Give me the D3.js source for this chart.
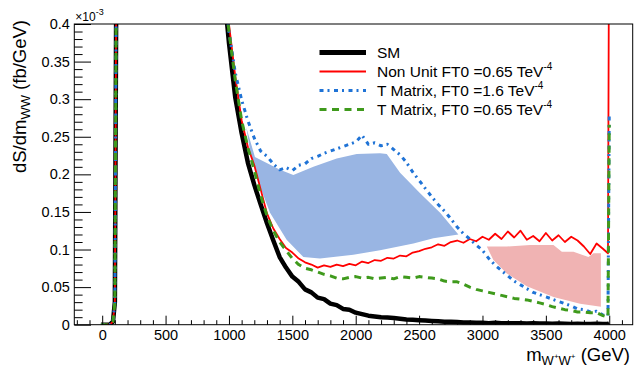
<!DOCTYPE html>
<html>
<head>
<meta charset="utf-8">
<script src="https://cdn.jsdelivr.net/npm/d3@7"></script>
<style>
  body { margin: 0; background: #fff; }
  svg { display: block; font-family: "Liberation Sans", Arial, Helvetica, sans-serif; }
</style>
</head>
<body>
<div id="chart"></div>
<script>
// m_WW bin positions (GeV) shared by all four curves
const massGeV = [-10, 60, 85, 100, 115, 900, 975,
  1000, 1050, 1100, 1150, 1200, 1250, 1300, 1350, 1400, 1450,
  1500, 1550, 1600, 1650, 1700, 1750, 1800, 1850, 1900, 1950,
  2000, 2050, 2100, 2150, 2200, 2250, 2300, 2350, 2400, 2450,
  2500, 2550, 2600, 2650, 2700, 2750, 2800, 2850, 2900, 2950,
  3000, 3050, 3100, 3150, 3200, 3250, 3300, 3350, 3400, 3450,
  3500, 3550, 3600, 3650, 3700, 3750, 3800, 3850, 3900, 3950,
  3990, 4000];

// dS/dm values in units of 1e-3 fb/GeV
const smValues = [0, 0, 0.004, 0.03, 0.6, 0.6, 0.42,
  0.375, 0.302, 0.255, 0.215, 0.186, 0.160, 0.135, 0.112, 0.090, 0.076,
  0.064, 0.057, 0.047, 0.043, 0.036, 0.034, 0.028, 0.026, 0.021, 0.020,
  0.016, 0.014, 0.012, 0.011, 0.010, 0.0095, 0.009, 0.008, 0.007, 0.0065,
  0.006, 0.0055, 0.005, 0.0045, 0.004, 0.004, 0.0035, 0.003, 0.003, 0.0025,
  0.0025, 0.002, 0.0025, 0.002, 0.002, 0.0018, 0.002, 0.0015, 0.0018, 0.0015,
  0.0015, 0.0012, 0.0015, 0.0012, 0.001, 0.0012, 0.001, 0.001, 0.0012, 0.001,
  0.001, 0.002];

const nonUnitValues = [0, 0, 0.004, 0.03, 0.6, 0.6, 0.45,
  0.40, 0.33, 0.272, 0.236, 0.212, 0.180, 0.148, 0.128, 0.114, 0.102,
  0.096, 0.088, 0.083, 0.080, 0.076, 0.079, 0.077, 0.080, 0.078, 0.081,
  0.079, 0.084, 0.082, 0.086, 0.085, 0.089, 0.088, 0.092, 0.091, 0.096,
  0.098, 0.101, 0.103, 0.107, 0.105, 0.110, 0.112, 0.109, 0.114, 0.111,
  0.117, 0.113, 0.121, 0.114, 0.124, 0.116, 0.125, 0.113, 0.118, 0.111,
  0.122, 0.112, 0.119, 0.110, 0.117, 0.112, 0.104, 0.094, 0.108, 0.101,
  0.095, 0.6];

const tMatrix16Values = [0, 0, 0.004, 0.03, 0.6, 0.6, 0.43,
  0.39, 0.335, 0.299, 0.271, 0.248, 0.231, 0.224, 0.214, 0.206, 0.209,
  0.205, 0.212, 0.214, 0.221, 0.224, 0.228, 0.231, 0.234, 0.237, 0.240,
  0.243, 0.252, 0.240, 0.242, 0.238, 0.240, 0.233, 0.226, 0.216, 0.203,
  0.192, 0.181, 0.170, 0.160, 0.151, 0.141, 0.130, 0.121, 0.114, 0.106,
  0.099, 0.088, 0.079, 0.072, 0.065, 0.058, 0.053, 0.048, 0.043, 0.040,
  0.037, 0.034, 0.031, 0.028, 0.025, 0.021, 0.020, 0.017, 0.018, 0.013,
  0.012, 0.282];

const tMatrix065Values = [0, 0, 0.004, 0.03, 0.6, 0.6, 0.43,
  0.39, 0.325, 0.272, 0.235, 0.205, 0.172, 0.145, 0.125, 0.110, 0.099,
  0.088, 0.080, 0.075, 0.073, 0.070, 0.067, 0.065, 0.062, 0.061, 0.063,
  0.064, 0.062, 0.063, 0.061, 0.062, 0.063, 0.061, 0.064, 0.063, 0.062,
  0.064, 0.063, 0.062, 0.061, 0.058, 0.057, 0.057, 0.054, 0.050, 0.047,
  0.045, 0.043, 0.041, 0.039, 0.037, 0.035, 0.034, 0.033, 0.031, 0.029,
  0.027, 0.024, 0.022, 0.020, 0.019, 0.017, 0.017, 0.016, 0.016, 0.012,
  0.010, 0.266];

// shaded regions (polygon outlines in data units)
const blueBandMass  = [1136, 1205, 1403, 1508, 1666, 1850, 2008, 2192, 2245, 2350, 2508, 2666, 2810,
                       2613, 2455, 2192, 1981, 1718, 1587, 1455, 1324, 1245, 1166];
const blueBandValue = [0.263, 0.223, 0.206, 0.199, 0.210, 0.221, 0.227, 0.228, 0.227, 0.202, 0.175, 0.149, 0.120,
                       0.115, 0.108, 0.099, 0.093, 0.088, 0.090, 0.113, 0.149, 0.184, 0.232];
const pinkBandMass  = [3034, 3192, 3376, 3560, 3626, 3718, 3836, 3875, 3934, 3934, 3770, 3560, 3350, 3192, 3086];
const pinkBandValue = [0.104, 0.104, 0.106, 0.106, 0.097, 0.097, 0.090, 0.095, 0.095, 0.024, 0.028, 0.037, 0.051, 0.068, 0.086];

const legendLabels = ["SM", "Non Unit FT0 =0.65 TeV", "T Matrix, FT0 =1.6 TeV", "T Matrix, FT0 =0.65 TeV"];

const xMajorTicks = [0, 500, 1000, 1500, 2000, 2500, 3000, 3500, 4000];
const yMajorTicks = [0, 0.05, 0.1, 0.15, 0.2, 0.25, 0.3, 0.35, 0.4];

const width = 635, height = 367;
const frame = {left: 74.3, right: 632.7, top: 24, bottom: 324.7};

const svg = d3.select("#chart").append("svg")
    .attr("width", width)
    .attr("height", height);

const x = d3.scaleLinear().domain([-220, 4185]).range([frame.left, frame.right]);
const y = d3.scaleLinear().domain([0, 0.4]).range([frame.bottom, frame.top]);

svg.append("clipPath").attr("id", "plot-clip")
  .append("rect")
    .attr("x", frame.left).attr("y", frame.top)
    .attr("width", frame.right - frame.left)
    .attr("height", frame.bottom - frame.top);

const plot = svg.append("g").attr("clip-path", "url(#plot-clip)");

// shaded bands
const polygon = (ms, vs) => ms.map((m, i) => [x(m), y(vs[i])]);
plot.append("path")
    .attr("d", d3.line()(polygon(blueBandMass, blueBandValue)) + "Z")
    .attr("fill", "#99b5e3");
plot.append("path")
    .attr("d", d3.line()(polygon(pinkBandMass, pinkBandValue)) + "Z")
    .attr("fill", "#f0b3b3");

const series = [
  {values: smValues, color: "#000000", width: 4.5, dash: null},
  {values: nonUnitValues, color: "#ff0000", width: 1.8, dash: null},
  {values: tMatrix16Values, color: "#1f73d6", width: 3, dash: "4,4,2,4.5"},
  {values: tMatrix065Values, color: "#3f9a1c", width: 3, dash: "7,5.5"}
];

const line = d3.line().x(d => x(d[0])).y(d => y(d[1]));

series.forEach(s => {
  plot.append("path")
      .attr("d", line(massGeV.map((m, i) => [m, s.values[i]])))
      .attr("fill", "none")
      .attr("stroke", s.color)
      .attr("stroke-width", s.width)
      .attr("stroke-linejoin", "round")
      .attr("stroke-dasharray", s.dash);
});

// axes (ROOT style: ticks inside)
const yMinor = d3.range(0, 0.4001, 0.01).filter(v => Math.abs(v / 0.05 - Math.round(v / 0.05)) > 1e-6);
const xMinor = d3.range(-200, 4101, 100).filter(v => v % 500 !== 0);

const yAxis = svg.append("g")
    .attr("transform", `translate(${frame.left},0)`)
    .call(d3.axisLeft(y).tickValues(yMajorTicks).tickSize(-16.7).tickPadding(4.5).tickFormat(d => String(d)));
svg.append("g")
    .attr("transform", `translate(${frame.left},0)`)
    .call(d3.axisLeft(y).tickValues(yMinor).tickSize(-8.3).tickFormat(""));

const xAxis = svg.append("g")
    .attr("transform", `translate(0,${frame.bottom})`)
    .call(d3.axisBottom(x).tickValues(xMajorTicks).tickSize(-9).tickPadding(5).tickFormat(d => String(d)));
svg.append("g")
    .attr("transform", `translate(0,${frame.bottom})`)
    .call(d3.axisBottom(x).tickValues(xMinor).tickSize(-4.5).tickFormat(""));

svg.selectAll(".domain").remove();
svg.selectAll(".tick line").attr("stroke", "#000").attr("stroke-width", 1);
svg.selectAll(".tick text").attr("font-size", 14.5).attr("fill", "#000")
    .attr("font-family", "Liberation Sans, Arial, sans-serif");

svg.append("rect")
    .attr("x", frame.left).attr("y", frame.top)
    .attr("width", frame.right - frame.left)
    .attr("height", frame.bottom - frame.top)
    .attr("fill", "none")
    .attr("stroke", "#000")
    .attr("stroke-width", 1);

// exponent label
const expo = svg.append("text")
    .attr("x", frame.left + 1).attr("y", 21)
    .attr("font-size", 12);
expo.append("tspan").text("\u00d710");
expo.append("tspan").attr("font-size", 9).attr("dy", -6).text("-3");

// y title
const yTitle = svg.append("text")
    .attr("transform", "translate(26,20) rotate(-90)")
    .attr("text-anchor", "end")
    .attr("font-size", 18.5);
yTitle.append("tspan").text("dS/dm");
yTitle.append("tspan").attr("font-size", 13).attr("dy", 4).text("WW");
yTitle.append("tspan").attr("dy", -4).text(" (fb/GeV)");

// x title
const xTitle = svg.append("text")
    .attr("x", 630).attr("y", 361)
    .attr("text-anchor", "end")
    .attr("font-size", 18.5);
xTitle.append("tspan").text("m");
xTitle.append("tspan").attr("font-size", 13).attr("dy", 4).text("W");
xTitle.append("tspan").attr("font-size", 8).attr("dy", -6).text("+");
xTitle.append("tspan").attr("font-size", 13).attr("dy", 6).text("W");
xTitle.append("tspan").attr("font-size", 8).attr("dy", -6).text("+");
xTitle.append("tspan").attr("dy", 2).text(" (GeV)");

// legend
const legendY = [52.5, 71.5, 90.5, 109.5];
const legend = svg.append("g");
series.forEach((s, i) => {
  legend.append("line")
      .attr("x1", 319.5).attr("x2", 366)
      .attr("y1", legendY[i]).attr("y2", legendY[i])
      .attr("stroke", s.color)
      .attr("stroke-width", i === 0 ? 5 : s.width)
      .attr("stroke-dasharray", s.dash);
  const t = legend.append("text")
      .attr("x", 377).attr("y", legendY[i] + 5.5)
      .attr("font-size", 15.5)
      .text(legendLabels[i]);
  if (i > 0) {
    t.append("tspan").attr("font-size", 10).attr("dy", -7).text("-4");
  }
});
</script>
</body>
</html>
